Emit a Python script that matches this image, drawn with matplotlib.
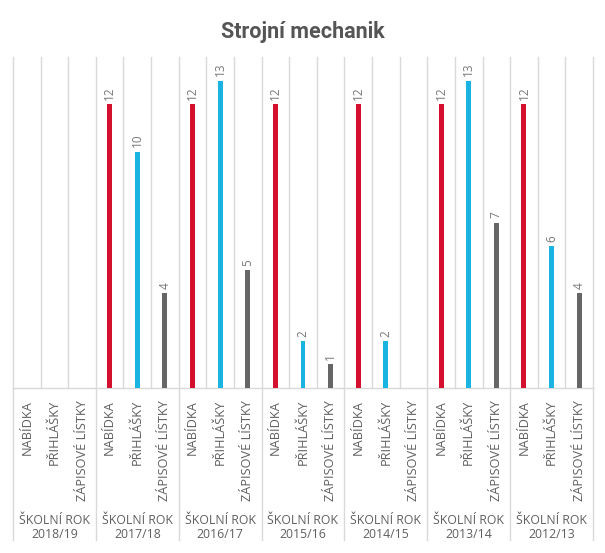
import matplotlib
matplotlib.use("Agg")
import matplotlib.pyplot as plt
import numpy as np

title = "Strojní mechanik"
years = ["2018/19", "2017/18", "2016/17", "2015/16", "2014/15", "2013/14", "2012/13"]
series_names = ["NABÍDKA", "PŘIHLÁŠKY", "ZÁPISOVÉ LÍSTKY"]
nabidka = [None, 12, 12, 12, 12, 12, 12]
prihlasky = [None, 10, 13, 2, 2, 13, 6]
zapisove = [None, 4, 5, 1, None, 7, 4]
group_label = "ŠKOLNÍ ROK"

colors = ["#d5102e", "#1ab3e2", "#666666"]
grid_color = "#d9d9d9"
text_color = "#5f5f5f"

W, H = 605, 553
fig = plt.figure(figsize=(W / 100, H / 100), dpi=100)
left, right, base, top = 13, 593, 388, 57
ax = fig.add_axes([left / W, 1 - base / H, (right - left) / W, (base - top) / H])
ax.set_xlim(-0.5, 20.5)
ax.set_ylim(0, 14)
ax.axis("off")

series = [nabidka, prihlasky, zapisove]
for gi, year in enumerate(years):
    for si, vals in enumerate(series):
        v = vals[gi]
        x = gi * 3 + si
        if v is None:
            continue
        ax.bar(x, v, width=0.18, color=colors[si], zorder=3)
        ax.annotate(str(v), (x, v), xytext=(0, 3), textcoords="offset points",
                    rotation=90, ha="center", va="bottom", fontsize=8.5,
                    color="#777777", family="Open Sans")

# grid lines
for b in range(22):
    xb = b - 0.5
    ax.plot([xb, xb], [0, 1], transform=ax.get_xaxis_transform(), color=grid_color,
            lw=1, zorder=1, clip_on=False)
    if b % 3 == 0:
        ax.plot([xb, xb], [0, -(540 - base) / (base - top)], transform=ax.get_xaxis_transform(),
                color=grid_color, lw=1, zorder=1, clip_on=False)
ax.plot([-0.5, 20.5], [0, 0], color=grid_color, lw=1, zorder=2, clip_on=False)

trans = ax.get_xaxis_transform()
px = 1.0 / (base - top)
for gi, year in enumerate(years):
    for si, name in enumerate(series_names):
        x = gi * 3 + si
        ax.text(x, -12 * px, name, rotation=90, ha="center", va="top", transform=trans,
                fontsize=9.2, color=text_color, family="Open Sans", clip_on=False)
    xc = gi * 3 + 1
    ax.text(xc, -(520 - base) * px, group_label, ha="center", va="center", transform=trans,
            fontsize=8.8, color=text_color, family="Open Sans", clip_on=False)
    ax.text(xc, -(535 - base) * px, year, ha="center", va="center", transform=trans,
            fontsize=8.8, color=text_color, family="Open Sans", clip_on=False)

fig.text(0.5, 1 - 32 / H, title, ha="center", va="center", fontsize=15.5,
         fontweight="bold", color="#555555", family="Roboto")

fig.savefig("out.png", dpi=100)
